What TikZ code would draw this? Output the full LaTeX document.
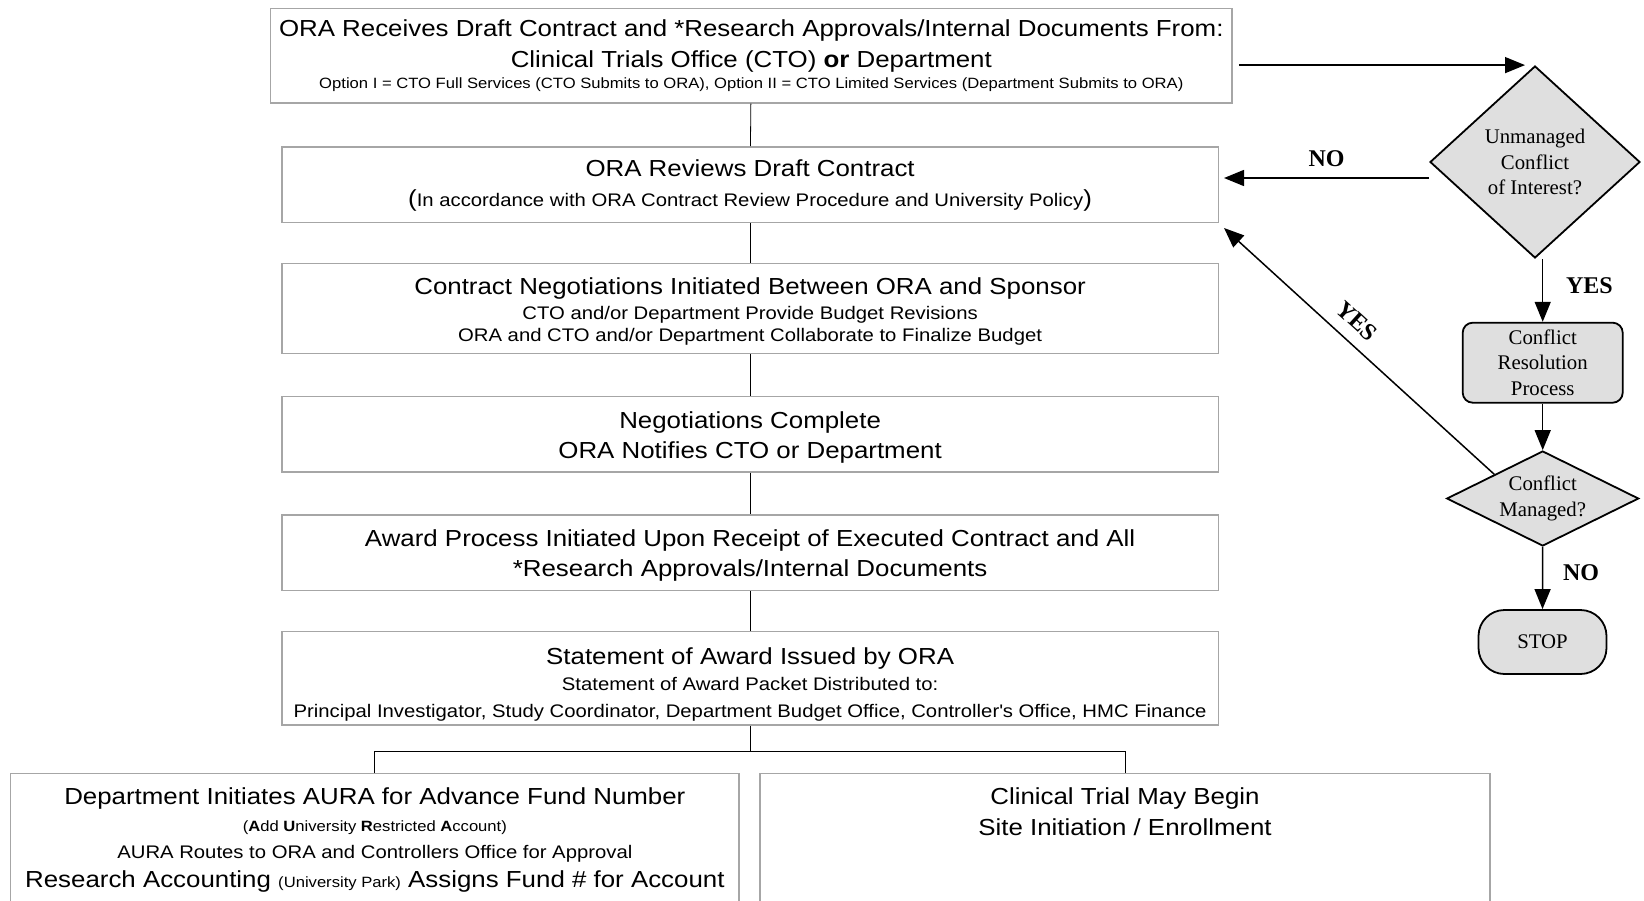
\documentclass[tikz,border=0pt]{standalone}
\usepackage{fontspec}
\setmainfont[FakeStretch=1.115]{Liberation Sans}
\newfontfamily\timesfont{Liberation Serif}
\usepackage{tikz}
\usetikzlibrary{positioning,calc,shapes.geometric,arrows.meta}
\newcommand{\bigtxt}{\fontsize{11.6}{15.5}\selectfont}
\newcommand{\midtxt}{\fontsize{9.1}{13}\selectfont}
\newcommand{\smalltxt}{\fontsize{7.45}{11}\selectfont}
\newcommand{\serifdec}{\timesfont\fontsize{10.4}{12.75}\selectfont}
\newcommand{\answerfont}{\timesfont\bfseries\fontsize{12}{14}\selectfont}
\newcommand{\padtop}[1]{\rule{0pt}{#1}}

\begin{document}
\begin{tikzpicture}[x=0.5pt, y=-0.5pt, >={Triangle[length=10pt,width=8pt]},
    stepbox/.style={draw=gray!70, line width=0.75pt, align=center, inner sep=2pt,
      minimum width=468.15pt, minimum height=37.75pt, font=\bigtxt},
    openbox/.style={stepbox, anchor=north, inner ysep=7pt, text depth=45pt},
    choice/.style={diamond, draw, line width=0.9pt, fill=gray!25, inner sep=0pt,
      align=center, font=\serifdec},
    process/.style={rectangle, rounded corners=5pt, draw, line width=0.9pt, fill=gray!25,
      align=center, font=\serifdec, minimum width=80pt, minimum height=40pt},
    terminal/.style={process, rounded corners=13pt, minimum width=64pt, minimum height=32pt},
    answer/.style={font=\answerfont},
    flow/.style={->, line width=0.75pt}]
  \useasboundingbox (0,0) rectangle (1644,900);

  \node[stepbox, minimum width=480.75pt, minimum height=47.2pt] (receive) at (751.3,55.6)
    {\bigtxt ORA Receives Draft Contract and *Research Approvals/Internal Documents From:\\
     \bigtxt Clinical Trials Office (CTO) \textbf{or} Department\\[-5.1pt]
     \smalltxt Option I = CTO Full Services (CTO Submits to ORA), Option II = CTO Limited Services (Department Submits to ORA)};
  \node[stepbox] (review) at (750.1,184.5)
    {\bigtxt\padtop{9.5pt}ORA Reviews Draft Contract\\[-0.6pt]
     {\bigtxt(}{\midtxt In accordance with ORA Contract Review Procedure and University Policy}{\bigtxt)}};
  \node[stepbox, minimum height=45.05pt] (negotiate) at (750.1,308.3)
    {\bigtxt\padtop{11.6pt}Contract Negotiations Initiated Between ORA and Sponsor\\[-3pt]
     \midtxt CTO and/or Department Provide Budget Revisions\\[-4.2pt]
     \midtxt ORA and CTO and/or Department Collaborate to Finalize Budget};
  \node[stepbox] (complete) at (750.1,434.1)
    {\bigtxt\padtop{11.6pt}Negotiations Complete\\[-0.3pt]
     \bigtxt ORA Notifies CTO or Department};
  \node[stepbox] (award) at (750.1,552.6)
    {\bigtxt\padtop{11.6pt}Award Process Initiated Upon Receipt of Executed Contract and All\\[-0.6pt]
     \bigtxt *Research Approvals/Internal Documents};
  \node[stepbox, minimum height=45.1pt] (statement) at (750.1,678.4)
    {\bigtxt\padtop{14.6pt}Statement of Award Issued by ORA\\[-2.6pt]
     \midtxt Statement of Award Packet Distributed to:\\[-2.2pt]
     \midtxt Principal Investigator, Study Coordinator, Department Budget Office, Controller\textquotesingle s Office, HMC Finance};
  \node[openbox, minimum width=364.35pt] (aura) at (374.85,772.7)
    {\bigtxt Department Initiates AURA for Advance Fund Number\\[-2.1pt]
     \smalltxt (\textbf{A}dd \textbf{U}niversity \textbf{R}estricted \textbf{A}ccount)\\[-1.9pt]
     \midtxt AURA Routes to ORA and Controllers Office for Approval\\[-0.9pt]
     \bigtxt Research Accounting {\smalltxt(University Park)} Assigns Fund \# for Account};
  \node[openbox, minimum width=365pt] (trial) at (1125,772.7)
    {\bigtxt Clinical Trial May Begin\\[-0.1pt]
     \bigtxt Site Initiation / Enrollment};

  \node[choice, minimum width=105pt, minimum height=96pt] (coi) at (1535,162)
    {Unmanaged\\Conflict\\of Interest?};
  \node[process] (resolve) at (1542.7,362.7) {Conflict\\Resolution\\Process};
  \node[choice, aspect=2, minimum width=96pt, minimum height=47.5pt] (managed) at (1542.7,498.5)
    {Conflict\\Managed?};
  \node[terminal] (stop) at (1542.5,642) {STOP};

  \draw (receive) -- (review);
  \draw (review) -- (negotiate);
  \draw (negotiate) -- (complete);
  \draw (complete) -- (award);
  \draw (award) -- (statement);
  \coordinate (split) at (750.1,751.8);
  \draw (statement.south) -- (split);
  \draw (aura.north) |- (split) -| (trial.north);

  \draw[flow] ($(receive.east |- coi.north)+(6,0)$) -- ($(coi.north)+(-10,0)$);
  \draw[flow] ($(coi.west)+(0,16)$) -- node[answer, above=2pt] {NO} ($(review.east |- coi.west)+(5,16)$);
  \draw[flow] (coi.south -| resolve.north) -- node[answer, pos=.42, right=8pt] {YES} (resolve.north);
  \draw[flow] (resolve.south) -- (managed.north);
  \draw[flow] (managed.south) -- node[answer, pos=.42, right=6.5pt] {NO} (stop.north);
  \draw[flow] (managed.north west) -- node[answer, pos=.56, sloped, above=2.5pt] {YES} ($(review.south east)+(5,5)$);
\end{tikzpicture}
\end{document}
